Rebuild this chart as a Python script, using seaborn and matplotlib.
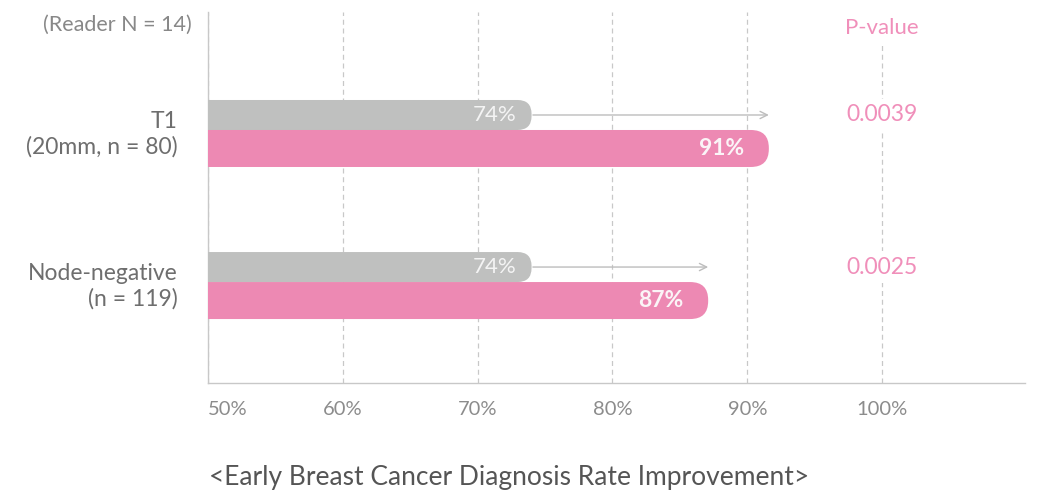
import matplotlib
matplotlib.use("Agg")
import matplotlib.pyplot as plt
import seaborn as sns
import pandas as pd
from matplotlib.patches import FancyBboxPatch

# data
groups = ["T1\n(20mm, n = 80)", "Node-negative\n(n = 119)"]
before = [74, 74]
after = [91.6, 87.1]
before_labels = ["74%", "74%"]
after_labels = ["91%", "87%"]
p_values = ["0.0039", "0.0025"]
ticks = [50, 60, 70, 80, 90, 100]
tick_labels = ["50%", "60%", "70%", "80%", "90%", "100%"]

GRAY = "#bfc0bf"
PINK = "#ed89b3"
PINK_TXT = "#f08fba"

df = pd.DataFrame({
    "group": groups * 2,
    "rate": before + after,
    "phase": ["before"] * len(groups) + ["after"] * len(groups),
})

sns.set_theme(style="white")
plt.rcParams["font.family"] = ["Lato", "DejaVu Sans"]

W, H = 1039, 492
fig = plt.figure(figsize=(W / 100, H / 100), dpi=100)
ax = fig.add_axes([208 / W, 1 - 383 / H, (1025 - 208) / W, (383 - 12) / H])

sns.barplot(data=df, x="rate", y="group", hue="phase", orient="h",
            palette=[GRAY, PINK], saturation=1, legend=False, ax=ax)

xlim = (50, 110.6)
ylim = (1.664, -0.776)
ax.set_xlim(*xlim)
ax.set_ylim(*ylim)

px_x = (1025 - 208) / (xlim[1] - xlim[0])   # pixels per x unit
px_y = (383 - 12) / (ylim[0] - ylim[1])     # pixels per y unit
aspect = px_x / px_y

# swap the plain bars for bars with a rounded right end
specs = [(-30, 30, 14), (0, 37, 18)]  # top offset px, height px, radius px
for cont, (off, h, r) in zip(ax.containers, specs):
    for i, bar in enumerate(cont):
        w = bar.get_width()
        fc = bar.get_facecolor()
        bar.remove()
        rb = FancyBboxPatch((-5, i + off / px_y), w + 5, h / px_y,
                            boxstyle=f"round,pad=0,rounding_size={r / px_x}",
                            mutation_aspect=aspect, fc=fc, ec="none",
                            zorder=3, clip_on=True)
        ax.add_patch(rb)

for i in range(len(groups)):
    yg = i - 15 / px_y
    yp = i + 18.5 / px_y
    ax.annotate("", xy=(after[i], yg), xytext=(before[i] + 0.1, yg),
                arrowprops=dict(arrowstyle="->", color="#bdbdbd", lw=1,
                                shrinkA=0, shrinkB=0, mutation_scale=13),
                zorder=2)
    ax.text(before[i] - 15 / px_x, yg, before_labels[i], ha="right", va="center",
            color="#f4f4f4", fontsize=16, zorder=4)
    ax.text(after[i] - 25 / px_x, yp, after_labels[i], ha="right", va="center",
            color="#fbf4f7", fontsize=16.5, fontweight="bold", zorder=4)
    ax.text(100, yg, p_values[i], ha="center", va="center", color=PINK_TXT,
            fontsize=16.5, zorder=4,
            bbox=dict(fc="white", ec="none", pad=4))

ax.text(100, (28 - 130) / px_y, "P-value", ha="center", va="center",
        color=PINK_TXT, fontsize=16, zorder=4,
        bbox=dict(fc="white", ec="none", pad=4))

ax.set_xticks(ticks)
ax.set_xticklabels(tick_labels)
ax.get_xticklabels()[0].set_horizontalalignment("left")
ax.tick_params(axis="x", length=0, pad=13, labelsize=14.5, labelcolor="#8c8c8c")
ax.tick_params(axis="y", length=0, pad=22, labelsize=16.5, labelcolor="#6e6e6e")
for lab in ax.get_yticklabels():
    lab.set_linespacing(1.25)

ax.grid(axis="x", color="#c8c8c8", linestyle=(0, (4, 3)), linewidth=0.9)
ax.grid(axis="y", visible=False)
ax.set_axisbelow(True)
ax.set_xlabel("")
ax.set_ylabel("")
for side in ["top", "right"]:
    ax.spines[side].set_visible(False)
for side in ["left", "bottom"]:
    ax.spines[side].set_color("#c8c8c8")
    ax.spines[side].set_linewidth(1)

fig.text(192 / W, 1 - 25 / H, "(Reader N = 14)", ha="right", va="center",
         fontsize=15.5, color="#888888")
fig.text(509 / W, 1 - 478 / H, "<Early Breast Cancer Diagnosis Rate Improvement>",
         ha="center", va="center", fontsize=19, color="#555555")

fig.savefig("out.png", dpi=100)
